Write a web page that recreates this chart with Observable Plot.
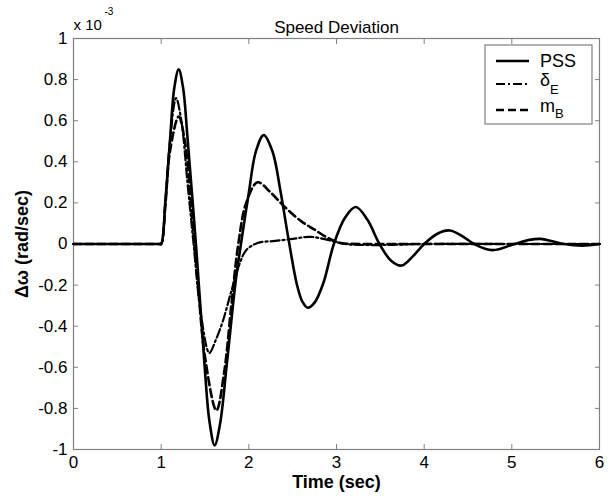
<!DOCTYPE html>
<html>
<head>
<meta charset="utf-8">
<script src="https://cdn.jsdelivr.net/npm/d3@7"></script>
<script src="https://cdn.jsdelivr.net/npm/@observablehq/plot@0.6"></script>
<style>
  html, body { margin: 0; padding: 0; background: #fff; }
  #chart { position: relative; width: 616px; height: 499px; }
</style>
</head>
<body>
<div id="chart"></div>
<script>
// Values in units of 1e-3 rad/sec
const pssTime = [0, 0.98, 1.0, 1.05, 1.1, 1.15, 1.2, 1.25, 1.3, 1.4, 1.5, 1.55, 1.61, 1.67, 1.75, 1.85, 1.91, 2.0, 2.08, 2.17, 2.27, 2.36, 2.45, 2.55, 2.61, 2.67, 2.75, 2.85, 2.97, 3.1, 3.22, 3.35, 3.49, 3.62, 3.74, 3.87, 4.0, 4.15, 4.29, 4.43, 4.57, 4.78, 5.03, 5.2, 5.33, 5.45, 5.6, 5.8, 6.0];
const pssValue = [0, 0, 0, 0.22, 0.5, 0.76, 0.85, 0.76, 0.52, -0.02, -0.62, -0.86, -0.98, -0.88, -0.58, -0.18, 0.0, 0.25, 0.45, 0.53, 0.45, 0.26, 0.03, -0.2, -0.28, -0.31, -0.285, -0.19, 0.0, 0.13, 0.18, 0.12, 0.0, -0.08, -0.105, -0.06, 0.0, 0.05, 0.066, 0.04, 0.0, -0.03, 0.0, 0.02, 0.025, 0.015, 0.0, -0.008, 0.0];

const deTime = [0, 0.98, 1.0, 1.05, 1.1, 1.17, 1.23, 1.3, 1.37, 1.45, 1.55, 1.62, 1.7, 1.8, 1.9, 1.97, 2.1, 2.3, 2.5, 2.7, 2.9, 3.1, 3.5, 4.0, 5.0, 6.0];
const deValue = [0, 0, 0, 0.22, 0.5, 0.71, 0.6, 0.3, 0.0, -0.33, -0.53, -0.47, -0.38, -0.23, -0.09, -0.03, 0.005, 0.015, 0.025, 0.035, 0.02, 0.0, -0.005, 0.0, 0.0, 0.0];

const mbTime = [0, 0.98, 1.0, 1.05, 1.1, 1.2, 1.27, 1.35, 1.42, 1.5, 1.63, 1.72, 1.8, 1.88, 1.97, 2.1, 2.25, 2.41, 2.6, 2.75, 2.9, 3.05, 3.3, 4.0, 5.0, 6.0];
const mbValue = [0, 0, 0, 0.2, 0.45, 0.62, 0.5, 0.15, -0.2, -0.55, -0.81, -0.62, -0.3, 0.0, 0.2, 0.30, 0.25, 0.18, 0.11, 0.07, 0.03, 0.005, 0.0, 0.0, 0.0, 0.0];

const xTicks = [0, 1, 2, 3, 4, 5, 6];
const yTicks = [-1, -0.8, -0.6, -0.4, -0.2, 0, 0.2, 0.4, 0.6, 0.8, 1];
const yTickLabels = ["-1", "-0.8", "-0.6", "-0.4", "-0.2", "0", "0.2", "0.4", "0.6", "0.8", "1"];

const titleText = "Speed Deviation";
const xLabel = "Time (sec)";
const yLabel = "\u0394\u03c9 (rad/sec)";

const toRows = (ts, vs) => ts.map((t, i) => ({t, v: vs[i]}));
const pssRows = toRows(pssTime, pssValue);
const deRows = toRows(deTime, deValue);
const mbRows = toRows(mbTime, mbValue);

const FONT = "'Liberation Sans', Arial, sans-serif";
const AX = "#808080";

const chart = Plot.plot({
  width: 616,
  height: 499,
  marginLeft: 73,
  marginRight: 17,
  marginTop: 38,
  marginBottom: 50,
  style: {fontFamily: FONT, fontSize: "17px", background: "#fff", color: "#000", overflow: "visible"},
  x: {domain: [0, 6]},
  y: {domain: [-1, 1]},
  marks: [
    Plot.frame({stroke: AX, strokeWidth: 1.2}),
    Plot.axisX(xTicks, {anchor: "bottom", tickSize: -5, stroke: AX, fill: "#000", fontSize: 17, label: null, tickPadding: 11}),
    Plot.axisX(xTicks, {anchor: "top", tickSize: -5, stroke: AX, tickFormat: () => "", label: null}),
    Plot.axisY(yTicks, {anchor: "left", tickSize: -5, stroke: AX, fill: "#000", fontSize: 17, label: null, tickPadding: 11,
      tickFormat: d => yTickLabels[yTicks.indexOf(d)]}),
    Plot.axisY(yTicks, {anchor: "right", tickSize: -5, stroke: AX, tickFormat: () => "", label: null}),
    Plot.line(mbRows, {x: "t", y: "v", stroke: "#000", strokeWidth: 2.6, strokeDasharray: "8,4", curve: "catmull-rom"}),
    Plot.line(deRows, {x: "t", y: "v", stroke: "#000", strokeWidth: 2.2, strokeDasharray: "9,3,2,3", curve: "catmull-rom"}),
    Plot.line(pssRows, {x: "t", y: "v", stroke: "#000", strokeWidth: 2.6, curve: "catmull-rom"}),
    Plot.text([titleText], {frameAnchor: "top", dy: -18, fontSize: 17, fill: "#000"}),
    Plot.text([xLabel], {frameAnchor: "bottom", dy: 38, fontSize: 18, fontWeight: "bold", fill: "#000"}),
    Plot.text([yLabel], {frameAnchor: "left", dx: -51, rotate: -90, textAnchor: "middle", fontSize: 18, fontWeight: "bold", fill: "#000"}),
    Plot.text(["x 10"], {frameAnchor: "top-left", dx: 0, dy: -19, textAnchor: "start", fontSize: 15, fill: "#000"}),
    Plot.text(["-3"], {frameAnchor: "top-left", dx: 31, dy: -31, textAnchor: "start", fontSize: 10, fill: "#000"})
  ]
});

document.getElementById("chart").appendChild(chart);

// Legend
const legendItems = [
  {name: "PSS", sub: "", dash: null, width: 2.6},
  {name: "\u03b4", sub: "E", dash: "9,3,2,3", width: 2.2},
  {name: "m", sub: "B", dash: "8,4", width: 2.6}
];
const svg = d3.select(chart);
const lg = svg.append("g").attr("font-family", FONT).attr("text-anchor", "start");
lg.append("rect").attr("x", 485).attr("y", 45).attr("width", 107).attr("height", 79)
  .attr("fill", "#fff").attr("stroke", AX).attr("stroke-width", 1.2);
const rowsY = [61, 84, 110];
const baseY = [67, 86, 112];
const subDy = [0, 8, 6];
legendItems.forEach((it, i) => {
  const y = rowsY[i];
  lg.append("line").attr("x1", 496).attr("x2", 529).attr("y1", y).attr("y2", y)
    .attr("stroke", "#000").attr("stroke-width", it.width)
    .attr("stroke-dasharray", it.dash);
  const t = lg.append("text").attr("x", 540).attr("y", baseY[i]).attr("font-size", 18).attr("fill", "#000")
    .attr("text-anchor", "start");
  t.append("tspan").text(it.name);
  if (it.sub) {
    t.append("tspan").attr("dy", subDy[i]).attr("font-size", 13).text(it.sub);
  }
});
</script>
</body>
</html>
